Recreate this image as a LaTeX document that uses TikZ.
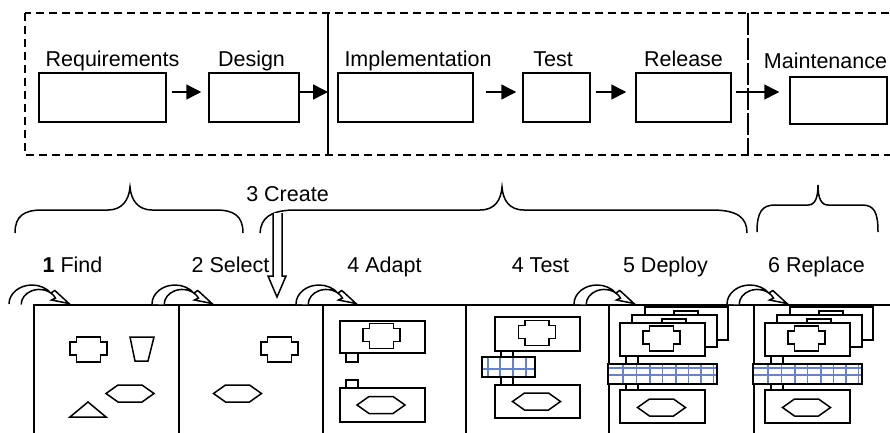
\documentclass[tikz,border=0pt]{standalone}
\usepackage{fontspec}
\setmainfont{Liberation Sans}
\usetikzlibrary{arrows.meta,calc}
\definecolor{gridblue}{RGB}{100,130,205}
\begin{document}
\begin{tikzpicture}[x=1pt,y=-1pt,
  box/.style={draw, line width=1.5pt, inner sep=0pt, fill=white},
  panel/.style={draw, line width=1.9pt, inner sep=0pt, anchor=north west, minimum height=140pt},
  lbl/.style={font=\fontsize{21.5}{25}\selectfont, inner sep=0pt, anchor=base},
  arr/.style={line width=1.5pt, -{Triangle[length=15pt,width=15pt]}},
  ln/.style={line width=1.5pt},
  shp/.style={line width=1.5pt, fill=white},
  dashedframe/.style={line width=1.4pt, dash pattern=on 8pt off 5pt},
  gridline/.style={gridblue, line width=1.2pt}]
\clip (0,0) rectangle (890,432);

% ---------- top row ----------
\draw[dashedframe] (25,13) rectangle (900,155);
\coordinate (s1top) at (328,13);
\coordinate (s1bot) at (328,155);
\draw[line width=1.8pt] (s1top) -- (s1bot);
\coordinate (s2top) at (748,13);
\coordinate (s2bot) at (748,155);
\draw[line width=1.6pt, dash pattern=on 22pt off 3pt] (s2top) -- (s2bot);

\node[box, minimum width=127pt, minimum height=49pt] (req) at (102.5,97.5) {};
\node[box, minimum width=90pt, minimum height=49pt] (des) at (254,97.5) {};
\node[box, minimum width=135pt, minimum height=49pt] (impl) at (405.5,97.5) {};
\node[box, minimum width=67pt, minimum height=49pt] (test) at (556.5,97.5) {};
\node[box, minimum width=95pt, minimum height=49pt] (rel) at (683.5,97.5) {};
\node[box, minimum width=97pt, minimum height=47pt] (maint) at (838.5,100.5) {};

\node[lbl] (lreq) at (112.5,66) {Requirements};
\node[lbl] (ldes) at (251.5,66) {Design};
\node[lbl] (limpl) at (418,66) {Implementation};
\node[lbl] (ltest) at (553,66) {Test};
\node[lbl] (lrel) at (683.5,66) {Release};
\node[lbl] (lmaint) at (825.5,68) {Maintenance};

\coordinate (sep1) at (328,92);
\draw[arr] ($(req.east)+(5,-5.5)$) -- ($(des.west)+(-7,-5.5)$);
\draw[arr] ($(des.east)+(-2,-5.5)$) -- (sep1);
\draw[arr] ($(impl.east)+(12,-5.5)$) -- ($(test.west)+(-6,-5.5)$);
\draw[arr] ($(test.east)+(5,-5.5)$) -- ($(rel.west)+(-9,-5.5)$);
\draw[arr] ($(rel.east)+(4,-5.5)$) -- ($(maint.west)+(-10,-8.5)$);

% ---------- braces ----------
\draw[ln] (15,233) .. controls (15,216) and (24,210) .. (42,210) -- (108,210)
  .. controls (122,210) and (129,200) .. (130,187)
  .. controls (131,200) and (138,210) .. (152,210) -- (216,210)
  .. controls (234,210) and (243,216) .. (243,233);
\draw[ln] (260,233) .. controls (261,218) and (270,211) .. (292,210) -- (480,210)
  .. controls (495,210) and (501,200) .. (502,187)
  .. controls (503,200) and (509,210) .. (524,210) -- (712,210)
  .. controls (738,210) and (747,218) .. (747,233);
\draw[ln] (757,232) .. controls (757,212) and (762,205) .. (775,205) -- (808,205)
  .. controls (815,205) and (818,198) .. (818,185)
  .. controls (818,198) and (821,205) .. (828,205) -- (862,205)
  .. controls (874,205) and (878,212) .. (878,232);

\node[lbl] (lcreate) at (287.5,201) {3 Create};
\node[lbl] (lfind) at (72.5,272) {\textbf{1} Find};
\node[lbl] (lselect) at (230.5,272) {2 Select};
\node[lbl] (ladapt) at (384.5,272) {4 Adapt};
\node[lbl] (ltest2) at (540.5,272) {4 Test};
\node[lbl] (ldeploy) at (665.5,272) {5 Deploy};
\node[lbl] (lreplace) at (816.5,272) {6 Replace};

% hollow down arrow
\draw[ln, fill=white] (273,213) -- (273,276) -- (268,276) -- (277,297) -- (286,276) -- (282,276) -- (282,213);

% ---------- panels ----------
\node[panel, minimum width=145pt] (p1) at (33,304) {};
\node[panel, minimum width=144pt] (p2) at (178,304) {};
\node[panel, minimum width=143pt] (p3) at (322,304) {};
\node[panel, minimum width=143pt] (p4) at (465,304) {};
\node[panel, minimum width=145pt] (p5) at (608,304) {};
\node[panel, minimum width=160pt] (p6) at (753,304) {};

% curved arrows
\newcommand\curvarr[1]{%
  \draw[ln, fill=white] (#1,304) arc[start angle=180, end angle=325, x radius=23, y radius=19]
    -- ++(4,-2.6) -- (#1+60,303.5) -- (#1+42.5,300) -- (#1+46.5,298.1)
    arc[start angle=335, end angle=180, x radius=18, y radius=15];}
\curvarr{9}
\curvarr{152}
\curvarr{296}
\curvarr{574}
\curvarr{727}

% shapes
\newcommand\crossat[2]{%
  \draw[shp, shift={(#1,#2)}] (-12,-12.5) -- (12,-12.5) -- (12,-7.5) -- (18.5,-7.5) -- (18.5,5.5)
    -- (12,5.5) -- (12,12.5) -- (-12,12.5) -- (-12,5.5) -- (-18.5,5.5) -- (-18.5,-7.5) -- (-12,-7.5) -- cycle;}
\newcommand\hexat[2]{%
  \draw[shp, shift={(#1,#2)}] (-24,0) -- (-12,-8.5) -- (12,-8.5) -- (24,0) -- (12,8.5) -- (-12,8.5) -- cycle;}

% panel 1
\crossat{88.5}{349.5}
\draw[shp] (130,337) -- (154,337) -- (148,361) -- (135,361) -- cycle;
\hexat{130}{393.5}
\draw[shp] (70,417) -- (106,417) -- (88,402) -- cycle;

% panel 2
\crossat{279.5}{349.5}
\hexat{237.5}{393.5}

% panel 3
\draw[shp] (340,321) rectangle (425,353);
\crossat{381.5}{336}
\draw[shp] (346,353) rectangle (358,362);
\draw[shp] (346,380) rectangle (358,388);
\draw[shp] (340,388) rectangle (425,422);
\hexat{381}{405}

% panel 4
\draw[shp] (495,317) rectangle (580,351);
\crossat{537}{333}
\draw[ln] (501,351) -- (501,357) (513,351) -- (513,357) (501,377) -- (501,385) (513,377) -- (513,385);
\fill[white] (482,357) rectangle (535,377);
\foreach \gx in {488,500,513,526} \draw[gridline] (\gx,357) -- (\gx,377);
\draw[gridline] (482,369) -- (535,369);
\draw[ln] (482,357) rectangle (535,377);
\draw[shp] (495,385) rectangle (580,418);
\hexat{536.5}{401.5}

% panels 5 and 6
\foreach \dx in {0,145} {
  \begin{scope}[xshift=\dx pt]
    \draw[shp] (645,307) rectangle (728,340);
    \draw[shp] (632,315) rectangle (717,347);
    \draw[shp] (674,311) rectangle (698,315);
    \draw[shp] (620,323) rectangle (705,356);
    \draw[shp] (662,319) rectangle (686,323);
    \crossat{661.5}{338.5}
    \draw[ln] (626,356) -- (626,364) (638,356) -- (638,364) (626,384) -- (626,390) (638,384) -- (638,390);
    \fill[white] (608,364) rectangle (717,384);
    \foreach \gx in {623,636.5,650,662.5,676,688.5,701,713.5} \draw[gridline] (\gx,364) -- (\gx,384);
    \draw[gridline] (608,368) -- (717,368);
    \draw[gridline] (608,375) -- (717,375);
    \draw[ln] (608,364) rectangle (717,384);
    \draw[shp] (620,390) rectangle (705,423);
    \hexat{661.5}{407.5}
  \end{scope}
}
\end{tikzpicture}
\end{document}
